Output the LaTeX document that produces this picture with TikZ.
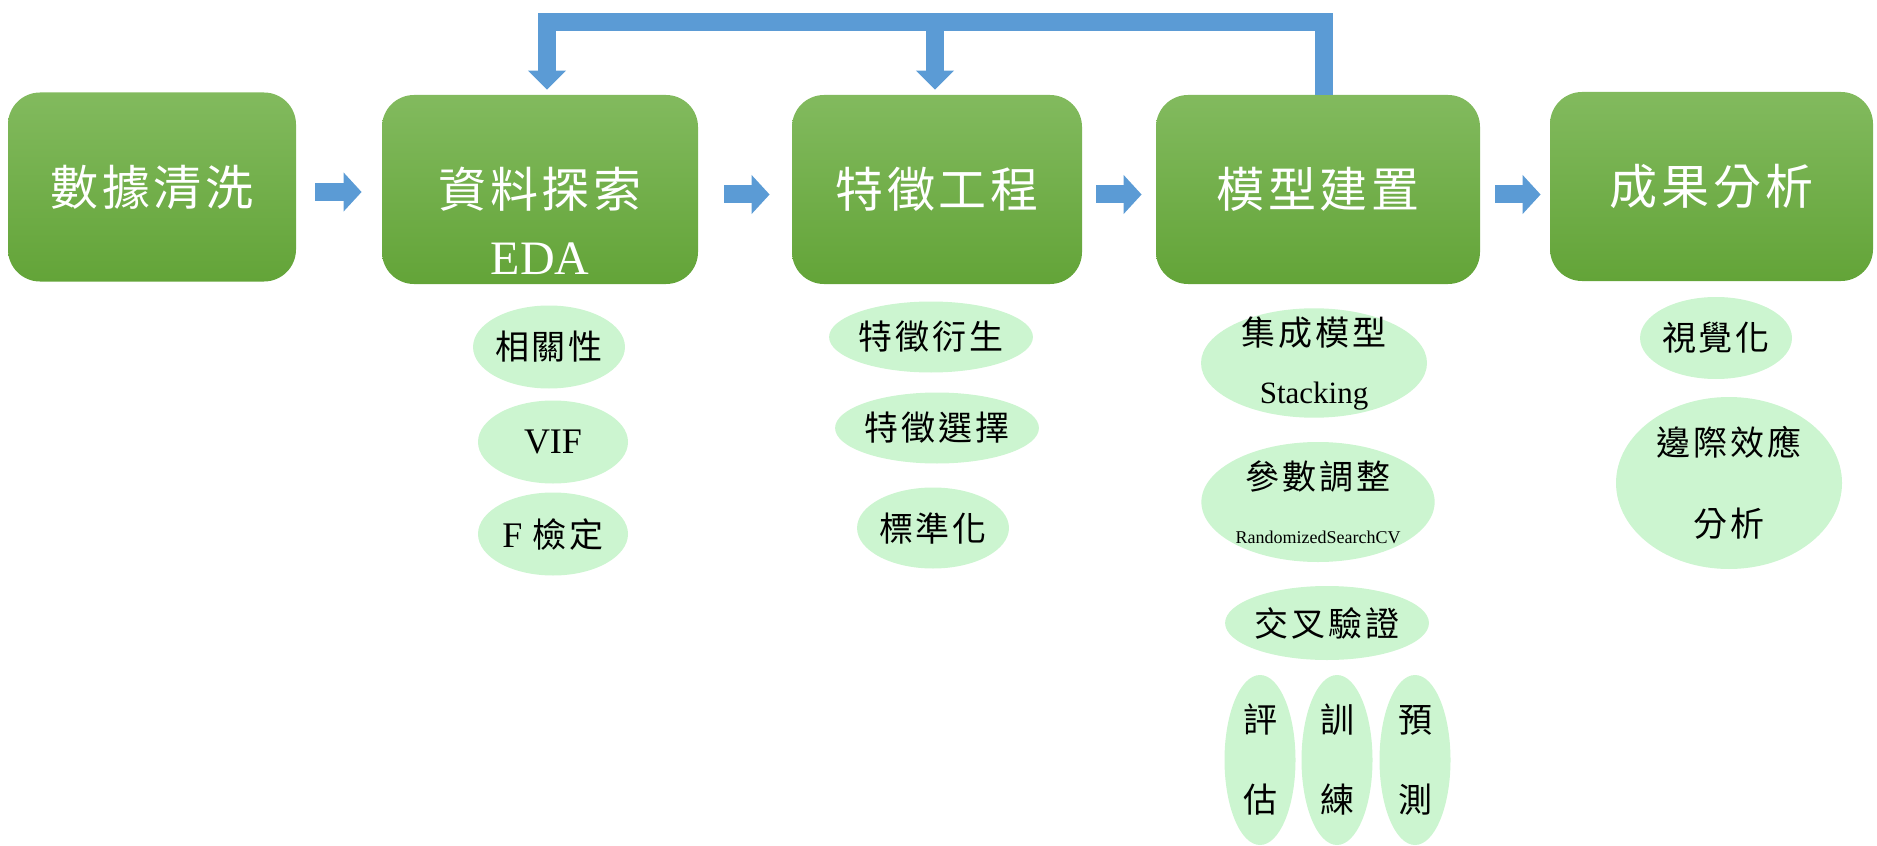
\documentclass[tikz,border=0pt]{standalone}
\usepackage{fontspec}
\setmainfont{Liberation Serif}
\newfontfamily\cjk[LetterSpace=8]{Noto Sans CJK TC}
\usetikzlibrary{shapes.geometric, arrows.meta}
\definecolor{boxtop}{RGB}{130,186,94}
\definecolor{boxbot}{RGB}{99,164,56}
\definecolor{flowblue}{RGB}{91,155,213}
\definecolor{mint}{RGB}{204,245,208}
\tikzstyle{stage} = [rectangle, rounded corners=16pt, minimum height=94.5pt, text centered, top color=boxtop, bottom color=boxbot, text=white, font=\cjk\fontsize{24}{28}\selectfont]
\tikzstyle{item} = [ellipse, fill=mint, inner sep=0pt, align=center, font=\cjk\fontsize{17}{20}\selectfont]
\tikzstyle{arrow} = [line width=9pt, flowblue, -{Triangle[width=19pt,length=9pt]}]
\tikzstyle{feedback} = [line width=9pt, flowblue, line join=miter, -{Triangle[width=18.5pt,length=9.5pt]}]

\begin{document}
\begin{tikzpicture}[x=0.5pt,y=-0.5pt]
\useasboundingbox (0,0) rectangle (1877,845);
\node (clean) [stage, minimum width=144pt] at (152,187) {數據清洗};
\node (eda) [stage, minimum width=158pt] at (540,189.5) {資料探索};
\node (edatext) [text=white, font=\fontsize{24}{28}\selectfont] at (540,259) {EDA};
\node (feat) [stage, minimum width=145pt] at (937,189.5) {特徵工程};
\node (model) [stage, minimum width=162pt] at (1318,189.5) {模型建置};
\node (result) [stage, minimum width=161.5pt] at (1711.5,186.5) {成果分析};
% flow between stages
\draw [arrow, shorten <=9.5pt, shorten >=10pt] ([yshift=-2.5pt]clean.east) -- ([yshift=-2.5pt]clean.east -| eda.west);
\draw [arrow, shorten <=13pt, shorten >=11pt] ([yshift=-2.5pt]eda.east) -- ([yshift=-2.5pt]eda.east -| feat.west);
\draw [arrow, shorten <=7pt, shorten >=7pt] ([yshift=-2.5pt]feat.east) -- ([yshift=-2.5pt]feat.east -| model.west);
\draw [arrow, shorten <=7.5pt, shorten >=4.5pt] ([yshift=-2.5pt]model.east) -- ([yshift=-2.5pt]model.east -| result.west);
% feedback from model building
\coordinate (fbtop) at (0,22.5);
\draw [feedback, shorten >=2.5pt] ([xshift=3pt]model.north) |- ([xshift=3.5pt]eda.north |- fbtop) -- ([xshift=3.5pt]eda.north);
\draw [feedback, shorten >=2.5pt] ([xshift=-1pt]feat.north |- fbtop) -- ([xshift=-1pt]feat.north);
% EDA items
\node (eda1) [item, minimum width=75pt, minimum height=41.5pt] at (549,347) {相關性};
\node (eda2) [item, minimum width=75pt, minimum height=41.5pt, font=\fontsize{18}{20}\selectfont] at (553,442) {VIF};
\node (eda3) [item, minimum width=75pt, minimum height=41.5pt] at (553,534) {{\rmfamily\fontsize{18}{20}\selectfont F} 檢定};
% feature items
\node (feat1) [item, minimum width=97.5pt, minimum height=35.5pt] at (931,337) {特徵衍生};
\node (feat2) [item, minimum width=97.5pt, minimum height=35.5pt] at (937,428) {特徵選擇};
\node (feat3) [item, minimum width=75.5pt, minimum height=40.5pt] at (933,528) {標準化};
% model items
\node (model1) [item, inner ysep=-4pt, minimum width=113pt, minimum height=54pt] at (1314,363) {集成模型\\[9pt]{\rmfamily\fontsize{15.5}{18}\selectfont Stacking}};
\node (model2) [item, minimum width=112.5pt, minimum height=60pt] at (1318,502) {參數調整\\[7pt]{\rmfamily\fontsize{9}{11}\selectfont RandomizedSearchCV}};
\node (model3) [item, minimum width=98.5pt, minimum height=37pt] at (1327,623) {交叉驗證};
\node (model4) [item, minimum width=35.5pt, minimum height=85pt] at (1260,760) {評\\[20pt]估};
\node (model5) [item, minimum width=35.5pt, minimum height=85pt] at (1337,760) {訓\\[20pt]練};
\node (model6) [item, minimum width=35.5pt, minimum height=85pt] at (1415,760) {預\\[20pt]測};
% result items
\node (result1) [item, minimum width=73pt, minimum height=41pt] at (1716,338) {視覺化};
\node (result2) [item, minimum width=113pt, minimum height=86pt] at (1729,483) {邊際效應\\[20.5pt]分析};
\end{tikzpicture}
\end{document}
